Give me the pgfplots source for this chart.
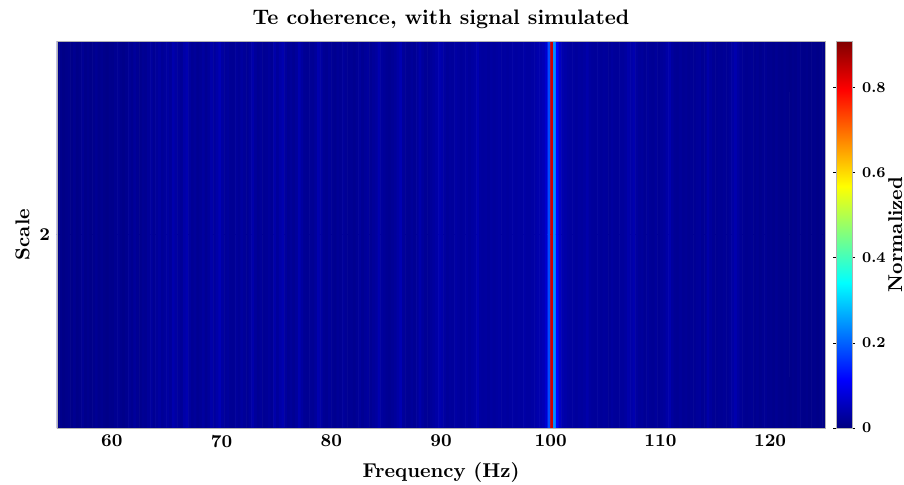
\documentclass[border=0pt]{standalone}
\usepackage{pgfplots}
\usepackage{pgfplotstable}
\pgfplotsset{compat=1.18}

% Normalised coherence at scale 2, one value per 0.25 Hz bin from 55 to 125 Hz
% (four bins per line, i.e. one line per Hz, starting at 55 Hz)
\pgfplotstableread[row sep=\\]{
v\\
0.007\\ 0.011\\ 0.006\\ 0.009\\
0.012\\ 0.008\\ 0.015\\ 0.007\\
0.011\\ 0.018\\ 0.010\\ 0.013\\
0.008\\ 0.012\\ 0.017\\ 0.011\\
0.014\\ 0.010\\ 0.007\\ 0.012\\
0.011\\ 0.016\\ 0.019\\ 0.012\\
0.009\\ 0.013\\ 0.021\\ 0.014\\
0.024\\ 0.017\\ 0.012\\ 0.018\\
0.016\\ 0.022\\ 0.027\\ 0.018\\
0.023\\ 0.030\\ 0.020\\ 0.025\\
0.029\\ 0.022\\ 0.040\\ 0.031\\
0.024\\ 0.020\\ 0.035\\ 0.042\\
0.026\\ 0.018\\ 0.023\\ 0.016\\
0.020\\ 0.028\\ 0.018\\ 0.024\\
0.037\\ 0.026\\ 0.035\\ 0.047\\
0.030\\ 0.022\\ 0.025\\ 0.018\\
0.017\\ 0.024\\ 0.020\\ 0.028\\
0.022\\ 0.018\\ 0.026\\ 0.038\\
0.024\\ 0.017\\ 0.022\\ 0.018\\
0.020\\ 0.025\\ 0.018\\ 0.037\\
0.024\\ 0.034\\ 0.042\\ 0.026\\
0.018\\ 0.022\\ 0.017\\ 0.024\\
0.041\\ 0.028\\ 0.019\\ 0.017\\
0.020\\ 0.018\\ 0.025\\ 0.040\\
0.030\\ 0.019\\ 0.016\\ 0.022\\
0.018\\ 0.014\\ 0.020\\ 0.017\\
0.024\\ 0.019\\ 0.016\\ 0.018\\
0.014\\ 0.020\\ 0.024\\ 0.017\\
0.022\\ 0.026\\ 0.018\\ 0.023\\
0.028\\ 0.041\\ 0.026\\ 0.022\\
0.018\\ 0.016\\ 0.020\\ 0.024\\
0.032\\ 0.043\\ 0.024\\ 0.019\\
0.017\\ 0.022\\ 0.018\\ 0.024\\
0.038\\ 0.025\\ 0.020\\ 0.018\\
0.023\\ 0.028\\ 0.034\\ 0.044\\
0.037\\ 0.029\\ 0.022\\ 0.026\\
0.024\\ 0.031\\ 0.028\\ 0.023\\
0.026\\ 0.030\\ 0.025\\ 0.029\\
0.032\\ 0.042\\ 0.029\\ 0.026\\
0.028\\ 0.024\\ 0.030\\ 0.026\\
0.029\\ 0.031\\ 0.028\\ 0.030\\
0.026\\ 0.030\\ 0.032\\ 0.029\\
0.031\\ 0.029\\ 0.034\\ 0.030\\
0.030\\ 0.032\\ 0.035\\ 0.040\\
0.042\\ 0.048\\ 0.070\\ 0.180\\
0.840\\ 0.240\\ 0.110\\ 0.060\\
0.040\\ 0.035\\ 0.030\\ 0.028\\
0.029\\ 0.025\\ 0.030\\ 0.026\\
0.030\\ 0.038\\ 0.028\\ 0.024\\
0.023\\ 0.026\\ 0.022\\ 0.025\\
0.024\\ 0.020\\ 0.028\\ 0.023\\
0.022\\ 0.025\\ 0.024\\ 0.029\\
0.038\\ 0.035\\ 0.042\\ 0.028\\
0.022\\ 0.024\\ 0.019\\ 0.023\\
0.020\\ 0.018\\ 0.023\\ 0.019\\
0.022\\ 0.025\\ 0.034\\ 0.040\\
0.026\\ 0.020\\ 0.018\\ 0.022\\
0.017\\ 0.020\\ 0.016\\ 0.019\\
0.018\\ 0.022\\ 0.024\\ 0.017\\
0.020\\ 0.036\\ 0.024\\ 0.018\\
0.016\\ 0.019\\ 0.017\\ 0.020\\
0.018\\ 0.022\\ 0.031\\ 0.041\\
0.029\\ 0.020\\ 0.017\\ 0.014\\
0.016\\ 0.018\\ 0.013\\ 0.017\\
0.012\\ 0.016\\ 0.018\\ 0.013\\
0.014\\ 0.011\\ 0.016\\ 0.012\\
0.010\\ 0.013\\ 0.011\\ 0.008\\
0.012\\ 0.010\\ 0.014\\ 0.011\\
0.008\\ 0.011\\ 0.007\\ 0.010\\
0.011\\ 0.007\\ 0.010\\ 0.006\\
}\coh

% the single scale row is drawn as two identical grid rows (y = 1.5 and 2.5)
\pgfplotstablevertcat{\cohgrid}{\coh}
\pgfplotstablevertcat{\cohgrid}{\coh}
% bin centre frequency and grid row of every entry
\pgfplotstablecreatecol[create col/expr={55.125+0.25*mod(\pgfplotstablerow,280)}]{f}{\cohgrid}
\pgfplotstablecreatecol[create col/expr={\pgfplotstablerow<280 ? 1.5 : 2.5}]{s}{\cohgrid}

\newcommand{\ticksize}{\bfseries\fontsize{9}{10.8}\selectfont}
\newcommand{\cbticksize}{\bfseries\fontsize{7.5}{9}\selectfont}
\newcommand{\labsize}{\bfseries\fontsize{10}{12}\selectfont}

\begin{document}
\begin{tikzpicture}
\path[use as bounding box] (-28.5pt,-28pt) rectangle (423.5pt,214pt);
\begin{axis}[
  at={(0pt,0pt)}, anchor=south west,
  scale only axis, width=384pt, height=193.5pt,
  xmin=55, xmax=125, ymin=1, ymax=3,
  xtick={60,70,...,120}, ytick={2},
  colormap/jet,
  point meta min=0, point meta max=0.91,
  axis on top,
  axis line style={draw=gray!60, line width=0.4pt},
  tick style={draw=none},
  ticklabel style={font=\ticksize},
  /pgf/number format/assume math mode=true,
  title={Te coherence, with signal simulated},
  title style={font=\bfseries\fontsize{10.5}{12.6}\selectfont, yshift=-3.5pt},
  xlabel={Frequency (Hz)},
  xlabel style={yshift=-0.5pt},
  ylabel={Scale},
  ylabel style={yshift=-2pt},
  label style={font=\labsize},
  colorbar,
  colorbar style={
    at={(parent axis.north east)}, anchor=north west, xshift=-3pt,
    width=8pt,
    ytick={0,0.2,0.4,0.6,0.8},
    yticklabel style={font=\cbticksize, /pgf/number format/assume math mode=true},
    axis line style={draw=gray!60, line width=0.4pt},
    tick align=outside, major tick length=1.5pt,
    tick style={draw=black, line width=0.4pt},
    ylabel={Normalized},
    ylabel style={font=\labsize, at={(axis description cs:3.7,0.5)}, anchor=center, rotate=0},
  },
]
\addplot[matrix plot*, mesh/cols=280, mesh/ordering=x varies, point meta=explicit]
  table[x=f, y=s, meta=v] {\cohgrid};
\end{axis}
\end{tikzpicture}
\end{document}
